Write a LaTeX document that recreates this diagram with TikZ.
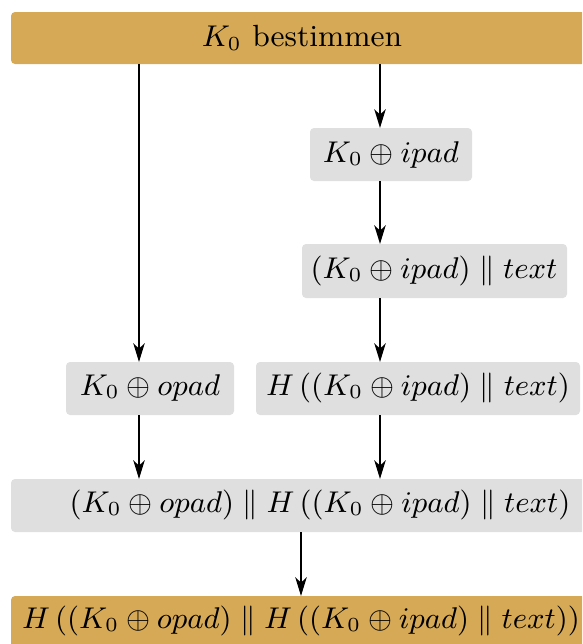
\documentclass[tikz,border=0pt]{standalone}
\usetikzlibrary{arrows.meta}
\definecolor{gold}{HTML}{D6A957}
\definecolor{lightbox}{HTML}{DFDFDF}
\begin{document}
\begin{tikzpicture}[x=0.3pt,y=-0.3pt,
  box/.style={rounded corners=1.2pt, inner sep=0pt},
  goldbox/.style={box, fill=gold},
  greybox/.style={box, fill=lightbox},
  arr/.style={line width=0.75pt, -{Stealth[length=5.6pt,width=3.4pt,inset=1.6pt]}},
  lbl/.style={font=\fontsize{9.2}{11}\selectfont, inner sep=0pt}]
\useasboundingbox (0,0) rectangle (582,644);
\clip (0,0) rectangle (582,644);
% boxes and their labels
\path[goldbox] (11,12) rectangle (593,64);
\node[lbl] (top) at (302,38) {$K_0$ bestimmen};
\coordinate (topS) at (0,64);
\path[greybox] (310,128) rectangle (472,181);
\node[lbl] (ipad) at (391,155) {$K_0 \oplus ipad$};
\coordinate (ipadN) at (0,128); \coordinate (ipadS) at (0,181);
\path[greybox] (302,244) rectangle (567,298);
\node[lbl] (cat) at (434,271) {$(K_0 \oplus ipad) \parallel text$};
\coordinate (catN) at (0,244); \coordinate (catS) at (0,298);
\path[greybox] (66,362) rectangle (234,415);
\node[lbl] (opad) at (150,388) {$K_0 \oplus opad$};
\path[greybox] (256,362) rectangle (580,415);
\node[lbl] (hin) at (418,388) {$H\left((K_0 \oplus ipad) \parallel text\right)$};
\coordinate (rowN) at (0,362); \coordinate (rowS) at (0,415);
\path[greybox] (11,479) rectangle (629,532);
\node[lbl] (outer) at (320,505) {$(K_0 \oplus opad) \parallel H\left((K_0 \oplus ipad) \parallel text\right)$};
\coordinate (outerN) at (0,479); \coordinate (outerS) at (0,532);
\path[goldbox] (11,596) rectangle (591,680);
\node[lbl] (hmac) at (301,621) {$H\left((K_0 \oplus opad) \parallel H\left((K_0 \oplus ipad) \parallel text\right)\right)$};
\coordinate (hmacN) at (0,596);
% arrow columns
\coordinate (cl) at (139,0);
\coordinate (cr) at (380,0);
\coordinate (cm) at (301,0);
% connectors
\draw[arr] (topS -| cl) -- (rowN -| cl);
\draw[arr] (topS -| cr) -- (ipadN -| cr);
\draw[arr] (ipadS -| cr) -- (catN -| cr);
\draw[arr] (catS -| cr) -- (rowN -| cr);
\draw[arr] (rowS -| cl) -- (outerN -| cl);
\draw[arr] (rowS -| cr) -- (outerN -| cr);
\draw[arr] (outerS -| cm) -- (hmacN -| cm);
\end{tikzpicture}
\end{document}
